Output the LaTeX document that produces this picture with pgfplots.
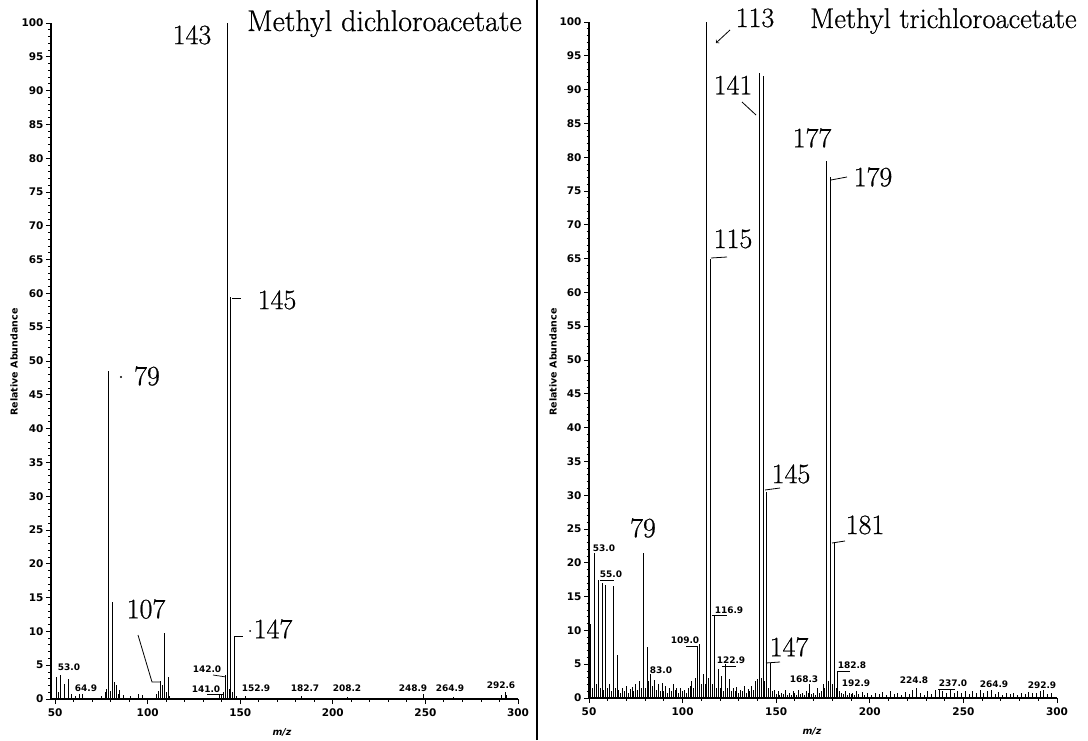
\documentclass[border=0pt]{standalone}
\usepackage{fontspec}
\usepackage{pgfplots}
\pgfplotsset{compat=1.18}
\newfontfamily\dvs{DejaVu Sans}
\newfontfamily\lmr{Latin Modern Roman}[FakeBold=0.7]
\newcommand\ticklab{\dvs\bfseries\fontsize{10.5}{12}\selectfont}
\newcommand\smallsans{\dvs\bfseries\fontsize{9}{10}\selectfont}
\newcommand\axlab{\dvs\bfseries\fontsize{9.5}{11}\selectfont}
\newcommand\biglab{\lmr\fontsize{28}{30}\selectfont}
\newcommand\titleL{\lmr\fontsize{30}{32}\selectfont}
\newcommand\titleR{\lmr\fontsize{28.5}{31}\selectfont}

\pgfplotstableread{
mz y
51 3.2
52 1.0
53 3.5
55 2.2
57 3.0
59 0.8
61 0.5
63 0.7
65 0.8
75 0.5
77 1.0
78 1.5
79 48.5
80 1.2
81 14.3
82 2.5
83 2.0
84 0.8
85 1.3
87 0.6
91 0.5
95 0.8
97 0.6
105 0.8
106 1.2
107 2.6
108 2.0
109 9.8
110 1.0
111 3.3
112 0.5
139 0.8
140 0.6
141 1.0
142 3.5
143 100
144 1.5
145 59.5
146 1.0
147 9.3
148 0.5
153 0.5
183 0.4
208 0.3
249 0.8
265 0.3
291 0.6
293 1.0
294 0.6
}\dichloro

\pgfplotstableread{
mz y
50 1.0
51 11
52 1.5
53 21.5
54 2
55 17.5
56 1.5
57 17
58 1.2
59 16.7
60 1.5
61 2
62 1
63 16.5
64 1.5
65 6.3
66 1.2
67 0.8
68 1.5
69 1.0
70 1.8
71 0.8
72 1.3
73 1.6
74 1.0
75 2.0
76 1.2
77 2.5
78 1.5
79 21.5
80 1.5
81 7.5
82 2.5
83 3.5
84 1.8
85 2.7
86 1.2
87 2.0
88 1.0
89 2.2
90 1.0
91 1.8
92 0.8
93 1.5
94 1.0
95 2.0
96 1.2
97 1.5
98 0.8
99 1.5
100 1.0
101 1.2
102 0.8
103 1.5
104 1.8
105 2.5
106 1.5
107 3.0
108 2.5
109 8.0
110 2.0
111 3.5
112 2.0
113 100
114 3
115 65
116 2
117 12.3
118 1.5
119 4.3
120 1.5
121 3.3
122 1.0
123 5.0
124 1.5
125 2.8
126 1
127 1.5
128 1
129 1.6
130 0.8
131 1.2
132 1.0
133 1.8
134 0.8
135 1.3
136 1.0
137 1.8
138 1.2
139 2.5
140 2.8
141 92.5
142 3.0
143 92
144 2.5
145 30.5
146 1.5
147 5.2
148 1.0
149 1.2
150 0.6
151 1.0
152 0.5
153 0.8
154 0.6
155 1.2
156 0.5
157 0.8
158 0.5
159 1.0
160 0.7
161 0.5
162 1.2
163 0.6
164 0.8
165 0.5
166 1.0
167 0.7
168 2.0
169 0.6
170 0.8
171 0.5
172 1.5
173 0.8
174 1.0
175 2.0
176 1.5
177 79.5
178 2.5
179 77
180 2.0
181 23
182 1.5
183 4.0
184 1.0
185 0.8
186 0.6
187 1.0
188 0.5
189 0.8
190 0.6
191 0.7
192 0.5
193 1.0
194 0.6
196 0.9
197 0.5
199 0.7
201 0.5
203 0.8
205 0.6
207 0.9
209 0.5
211 1.0
213 0.6
215 0.8
217 0.5
219 0.9
221 0.6
223 1.2
225 1.5
227 0.7
229 0.5
231 1.0
233 0.6
235 1.2
237 1.3
239 1.0
241 0.8
243 1.2
245 0.7
247 1.0
249 0.8
251 1.1
253 0.6
255 1.0
257 0.7
259 1.2
261 0.8
263 1.0
265 1.2
267 0.6
269 0.9
271 0.5
273 0.8
275 0.6
277 0.7
279 0.5
281 0.8
283 0.6
285 0.9
287 0.7
289 0.8
291 1.0
293 1.2
295 0.6
297 0.8
}\trichloro

\pgfplotsset{
  msaxis/.style={
    anchor=south west, scale only axis,
    ymin=0, ymax=100, xmax=300,
    axis lines*=left,
    axis line style={line width=1.2pt},
    xtick={50,100,...,300}, minor x tick num=4,
    ytick={0,5,...,100}, minor y tick num=4,
    tick align=outside,
    major tick length=5pt, minor tick length=2.5pt,
    every tick/.style={black, line width=0.9pt},
    tick label style={font=\ticklab},
    /pgf/number format/assume math mode=true,
    xticklabel style={yshift=-1pt},
    yticklabel style={xshift=1pt},
    clip=false,
  },
  spec/.style={ycomb, black, line width=1pt, no markers},
}

\begin{document}
\begin{tikzpicture}[x=1pt,y=1pt]
\useasboundingbox (0,0) rectangle (1088,740);

\begin{axis}[msaxis, at={(51pt,41pt)}, width=467pt, height=676pt, xmin=47.8]
\addplot[spec] table[x=mz,y=y] {\dichloro};
\end{axis}

\begin{axis}[msaxis, at={(589pt,42pt)}, width=468pt, height=676pt, xmin=50]
\addplot[spec] table[x=mz,y=y] {\trichloro};
\end{axis}

% separator
\draw[line width=1.6pt] (537,0) -- (537,740);

% axis titles
\node[rotate=90, font=\axlab] at (14,378) {Relative Abundance};
\node[rotate=90, font=\axlab] at (553,378) {Relative Abundance};
\node[font={\axlab\itshape}] at (282,8) {m/z};
\node[font={\axlab\itshape}] at (812,9) {m/z};

% ---------- left annotations
\node[font=\titleL, anchor=base west, inner sep=0pt] at (247,709) {Methyl dichloroacetate};
\node[font=\biglab] at (192,705) {143};
\node[font=\biglab] at (277,440) {145};
\draw[line width=0.8pt] (232,442) -- (241,442);
\node[font=\biglab] at (147,364) {79};
\fill (121,363) circle (1.2);
\node[font=\biglab] at (146,131) {107};
\draw[line width=0.8pt] (138,105) -- (152,58) -- (160,58);
\node[font=\biglab] at (273,111) {147};
\draw[line width=0.8pt] (235,104) -- (243,104);
\fill (250,109) circle (1);
\node[font=\smallsans] at (69,73) {53.0};
\node[font=\smallsans] at (86,52) {64.9};
\node[font=\smallsans] at (207,71) {142.0};
\draw[line width=0.7pt] (213,65) -- (226,63);
\node[font=\smallsans] at (206,51) {141.0};
\draw[line width=0.7pt] (207,46) -- (223,46);
\node[font=\smallsans] at (256,52) {152.9};
\node[font=\smallsans] at (305,52) {182.7};
\node[font=\smallsans] at (347,52) {208.2};
\node[font=\smallsans] at (413,52) {248.9};
\node[font=\smallsans] at (450,52) {264.9};
\node[font=\smallsans] at (501,55) {292.6};

% ---------- right annotations
\node[font=\titleR, anchor=base west, inner sep=0pt] at (810,712) {Methyl trichloroacetate};
\node[font=\biglab] at (755,722) {113};
\draw[->, line width=0.8pt] (730,710) -- (716,697);
\node[font=\biglab] at (733,655) {141};
\draw[line width=0.8pt] (742,638) -- (756,625);
\node[font=\biglab] at (812,602) {177};
\node[font=\biglab] at (873,563) {179};
\draw[line width=0.8pt] (831,560) -- (847,563);
\node[font=\biglab] at (733,501) {115};
\draw[line width=0.8pt] (711,482) -- (727,483);
\node[font=\biglab] at (791,266) {145};
\draw[line width=0.8pt] (765,250) -- (780,252);
\node[font=\biglab] at (865,215) {181};
\draw[line width=0.8pt] (832,197) -- (845,199);
\node[font=\biglab] at (789,93) {147};
\draw[line width=0.8pt] (766,77) -- (780,78);
\node[font=\biglab] at (643,212) {79};
\node[font=\smallsans] at (604,192) {53.0};
\node[font=\smallsans] at (611,166) {55.0};
\draw[line width=0.7pt] (600,160) -- (614,160);
\node[font=\smallsans] at (661,70) {83.0};
\node[font=\smallsans] at (685,100) {109.0};
\draw[line width=0.7pt] (686,94) -- (697,94) -- (697,55);
\node[font=\smallsans] at (729,130) {116.9};
\draw[line width=0.7pt] (712,125) -- (727,125);
\node[font=\smallsans] at (731,80) {122.9};
\draw[line width=0.7pt] (722,74) -- (736,74);
\node[font=\smallsans] at (804,61) {168.3};
\node[font=\smallsans] at (852,75) {182.8};
\draw[line width=0.7pt] (838,69) -- (850,69);
\node[font=\smallsans] at (856,57) {192.9};
\node[font=\smallsans] at (914,60) {224.8};
\node[font=\smallsans] at (953,57) {237.0};
\draw[line width=0.7pt] (938,51) -- (955,51);
\node[font=\smallsans] at (994,56) {264.9};
\node[font=\smallsans] at (1042,55) {292.9};
\end{tikzpicture}
\end{document}
